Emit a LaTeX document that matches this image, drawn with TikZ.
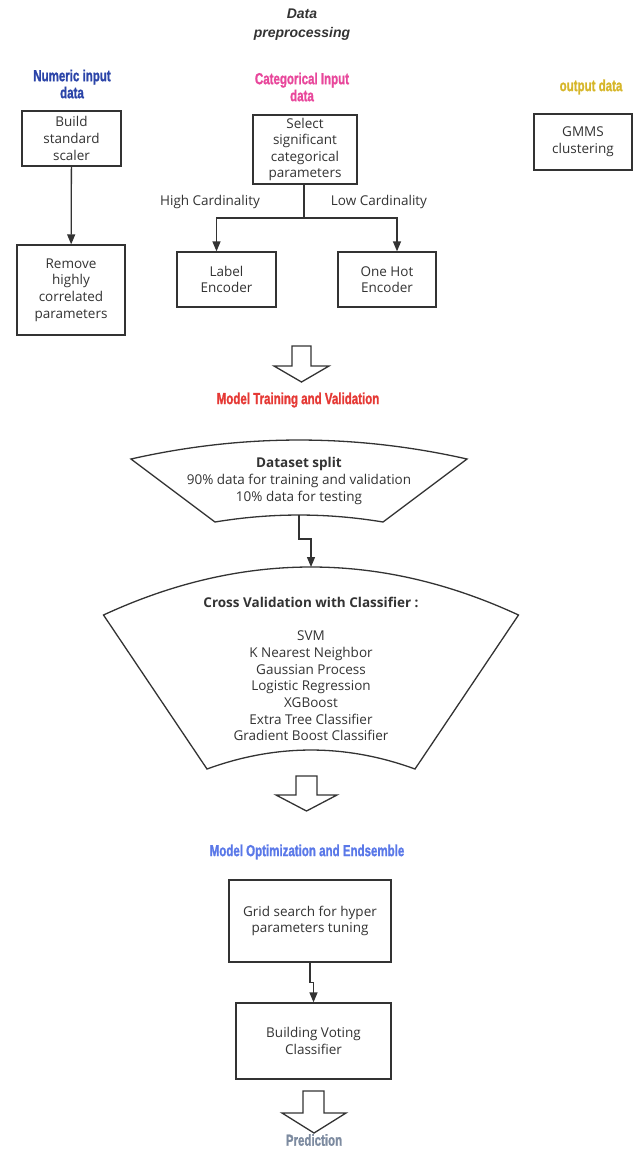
\documentclass[tikz,border=0pt]{standalone}
\usepackage{fontspec}
\setmainfont{Open Sans}
\newfontfamily\hdrfont{Liberation Sans Bold}[FakeStretch=0.72, FakeBold=1.2]
\newfontfamily\ttlfont{Liberation Sans}
\usetikzlibrary{arrows.meta}
\definecolor{ink}{HTML}{333333}
\definecolor{numblue}{HTML}{2B44A8}
\definecolor{catpink}{HTML}{E8479B}
\definecolor{outgold}{HTML}{D6B62A}
\definecolor{trainred}{HTML}{E53935}
\definecolor{optblue}{HTML}{5A78E8}
\definecolor{predgray}{HTML}{7D8BA0}
\begin{document}
\begin{tikzpicture}[x=1pt,y=-1pt,
  box/.style={draw=ink, line width=1.3pt, fill=white, align=center, inner sep=0pt,
    font=\fontsize{13.5}{16.6}\selectfont, text=ink},
  txt/.style={align=center, inner sep=0pt, font=\fontsize{13.5}{16.6}\selectfont, text=ink},
  hdr/.style={align=center, inner sep=0pt, font=\hdrfont\fontsize{16}{17}\selectfont},
  arr/.style={draw=ink, line width=1.3pt, -{Triangle[length=10pt,width=8pt]}},
  conn/.style={draw=ink, line width=1.3pt},
  hollow/.style={draw=ink, line width=1.3pt, fill=white, line join=miter}]
\useasboundingbox (0,0) rectangle (633,1149);

% ---- headings
\node[font=\ttlfont\bfseries\itshape\fontsize{14}{19}\selectfont, text=ink, align=center, inner sep=0pt] (dp) at (302,25) {Data\\preprocessing};
\node[hdr, text=numblue] (numlab) at (72,84) {Numeric input\\data};
\node[hdr, text=catpink] (catlab) at (302,87) {Categorical Input\\data};
\node[hdr, text=outgold] (outlab) at (591,87) {output data};

% ---- first row boxes
\node[box, minimum width=99pt, minimum height=55pt] (build) at (71.5,138.5) {Build\\standard\\scaler};
\node[box, minimum width=108pt, minimum height=90pt] (remove) at (71,290) {Remove\\highly\\correlated\\parameters};
\node[box, minimum width=104pt, minimum height=69pt] (select) at (305,149.5) {Select\\significant\\categorical\\parameters};
\node[box, minimum width=98pt, minimum height=56pt] (gmms) at (583,142) {GMMS\\clustering};
\node[box, minimum width=99pt, minimum height=55pt] (label) at (226.5,279.5) {Label\\Encoder};
\node[box, minimum width=98pt, minimum height=55pt] (onehot) at (387,279.5) {One Hot\\Encoder};

\draw[arr] (build) -- (remove);
\coordinate (split) at (304,218);
\draw[conn] (select.south -| split) -- (split);
\draw[arr] (split) -| ([xshift=-10pt]label.north);
\draw[arr] (split) -| ([xshift=10pt]onehot.north);
\node[txt] (high) at (210,202) {High Cardinality};
\node[txt] (low) at (379,202) {Low Cardinality};

% ---- hollow arrow 1
\draw[hollow] (292,346) -- (311,346) -- (311,366) -- (329,366) -- (301.5,382) -- (274,366) -- (292,366) -- cycle;
\node[hdr, text=trainred] (trainlab) at (298,400) {Model Training and Validation};

% ---- dataset split fan
\draw[conn, fill=white] (131,459) .. controls (243,433.7) and (355,433.7) .. (467,459)
  -- (383,522) .. controls (327,512.7) and (271,512.7) .. (215,522) -- cycle;
\node[txt, font=\fontsize{13.5}{17}\selectfont] (dstext) at (299,481) {\textbf{Dataset split}\\90\% data for training and validation\\10\% data for testing};
\coordinate (dsbot) at (299,515);

% ---- cross validation fan
\draw[conn, fill=white] (103.5,615) .. controls (241.8,551) and (380.2,551) .. (518.5,615)
  -- (415,769) .. controls (345.7,743.7) and (276.3,743.7) .. (207,769) -- cycle;
\coordinate (cvtop) at (311,567);
\draw[arr] (dsbot) -- ++(0,24) -| (cvtop);
\node[txt] (cvtitle) at (311,602) {\textbf{Cross Validation with Classifier :}};
\node[txt, font=\fontsize{13.5}{16.67}\selectfont] (cvlist) at (311,686) {SVM\\K Nearest Neighbor\\Gaussian Process\\Logistic Regression\\XGBoost\\Extra Tree Classifier\\Gradient Boost Classifier};

% ---- hollow arrow 2
\draw[hollow] (296,776) -- (317,776) -- (317,795) -- (337,795) -- (306.5,811) -- (276,795) -- (296,795) -- cycle;
\node[hdr, text=optblue] (optlab) at (307,852) {Model Optimization and Endsemble};

% ---- optimisation boxes
\node[box, minimum width=162pt, minimum height=82pt] (grid) at (310,921) {Grid search for hyper\\parameters tuning};
\node[box, minimum width=155pt, minimum height=76pt] (voting) at (313.5,1041) {Building Voting\\Classifier};
\draw[arr] (grid.south) -- ++(0,20) -| (voting.north);

% ---- hollow arrow 3
\draw[hollow] (303,1091) -- (324,1091) -- (324,1113) -- (346,1113) -- (314,1133) -- (282,1113) -- (303,1113) -- cycle;
\node[hdr, text=predgray] (predlab) at (314,1140) {Prediction};
\end{tikzpicture}
\end{document}
